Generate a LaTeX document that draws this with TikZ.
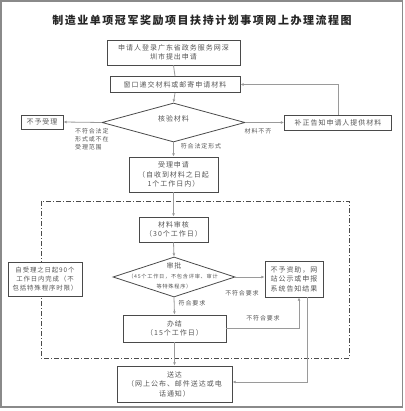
\documentclass[tikz,border=0pt]{standalone}
\usepackage{fontspec}
\setmainfont{Noto Sans CJK SC}[LetterSpace=14]
\usetikzlibrary{shapes.geometric,arrows.meta}
\definecolor{boxc}{HTML}{4A4A4A}
\definecolor{linec}{HTML}{9A9A9A}
\definecolor{txtc}{HTML}{555555}
\definecolor{framec}{HTML}{8A8A8A}
\begin{document}
\begin{tikzpicture}[x=1pt,y=-1pt,
  box/.style={draw=boxc,fill=white,line width=0.8pt,align=center,text=txtc,font=\fontsize{7}{9.5}\selectfont,inner sep=0.5pt},
  dia/.style={draw=boxc,line width=0.8pt,diamond,inner sep=0pt},
  lbl/.style={text=txtc,font=\fontsize{6}{8}\selectfont,inner sep=0pt},
  conn/.style={draw=linec,line width=0.8pt},
  arr/.style={conn,-{Latex[length=3.2pt,width=2.8pt]},shorten >=0pt}
]
\useasboundingbox (0,0) rectangle (404,411);
\draw[framec,line width=1.6pt] (1,1) rectangle (402.5,407);

\node[text=black!85,font=\fontsize{11}{13}\selectfont\bfseries,inner sep=0pt] (title) at (202,20) {制造业单项冠军奖励项目扶持计划事项网上办理流程图};

\node[box,minimum width=133pt,minimum height=25pt] (b1) at (173.5,52.5) {申请人登录广东省政务服务网深\\圳市提出申请};
\node[box,minimum width=130pt,minimum height=16pt] (b2) at (175,84.5) {窗口递交材料或邮寄申请材料};
\node[dia,minimum width=143pt,minimum height=39pt] (d1) at (173.5,122.5) {};
\node[lbl,font=\fontsize{7}{9}\selectfont] (d1t) at (173.5,119) {核验材料};
\node[box,minimum width=42pt,minimum height=14pt] (n1) at (42,122) {不予受理};
\node[box,minimum width=107pt,minimum height=15pt] (r1) at (338,122.5) {补正告知申请人提供材料};
\node[box,minimum width=89pt,minimum height=35pt] (b3) at (173.5,174.5) {受理申请\\（自收到材料之日起\\1个工作日内）};

\draw[boxc,line width=0.8pt,dash pattern=on 5pt off 2pt on 1pt off 2pt] (41,201) rectangle (349,358);

\node[box,minimum width=69pt,minimum height=25pt] (b4) at (173.5,229.5) {材料审核\\（30个工作日）};
\node[dia,minimum width=122pt,minimum height=40pt] (d2) at (174,277) {};
\node[lbl,font=\fontsize{7}{9}\selectfont] (d2a) at (174,266) {审批};
\node[lbl,font=\fontsize{5.2}{7}\selectfont] (d2b) at (173,277) {（45个工作日，不包含评审、审计};
\node[lbl,font=\fontsize{5.2}{7}\selectfont] (d2c) at (174,287) {等特殊程序）};
\node[box,minimum width=58pt,minimum height=36pt] (r2) at (294,279) {不予资助，网\\站公示或申报\\系统告知结果};
\node[box,minimum width=74pt,minimum height=34pt,text width=72pt,font=\fontsize{6.4}{9.2}\selectfont] (lt) at (45,279) {自受理之日起90个\\工作日内完成（不\\包括特殊程序时限）};
\node[box,minimum width=103pt,minimum height=27pt] (b5) at (174.5,328.5) {办结\\（15个工作日）};
\node[box,minimum width=115pt,minimum height=36pt] (b6) at (174.5,384) {送达\\（网上公布、邮件送达或电\\话通知）};

\coordinate (lp) at (338,85);
\coordinate (c5) at (299,328);
\coordinate (c6) at (307,382);

\draw[conn] (b1.south) -- (b2.north);
\draw[arr] (b2.south) -- (d1.north);
\draw[arr] (d1.west) -- (n1.east);
\draw[arr] (d1.east) -- (r1.west);
\draw[arr] (r1.north) |- (b2.east);
\draw[arr] (d1.south) -- (b3.north);
\draw[arr] (b3.south) -- (b4.north);
\draw[arr] (b4.south) -- (d2.north);
\draw[arr] (d2.east) -- (r2.west |- d2.east);
\draw[arr] (d2.south) -- (b5.north);
\draw[arr] (b5.east |- c5) -- (c5) -- (c5 |- r2.south);
\draw[arr] (b5.south) -- (b6.north);
\draw[arr] (c6 |- r2.south) -- (c6) -- (b6.east |- c6);

\node[lbl,align=left,anchor=north west] (l1) at (75,128) {不符合法定\\形式或不在\\受理范围};
\node[lbl] (l2) at (258,131) {材料不齐};
\node[lbl] (l3) at (201,146) {符合法定形式};
\node[lbl] (l4) at (242,293) {不符合要求};
\node[lbl] (l5) at (192,303.5) {符合要求};
\node[lbl] (l6) at (263,318) {不符合要求};
\end{tikzpicture}
\end{document}
